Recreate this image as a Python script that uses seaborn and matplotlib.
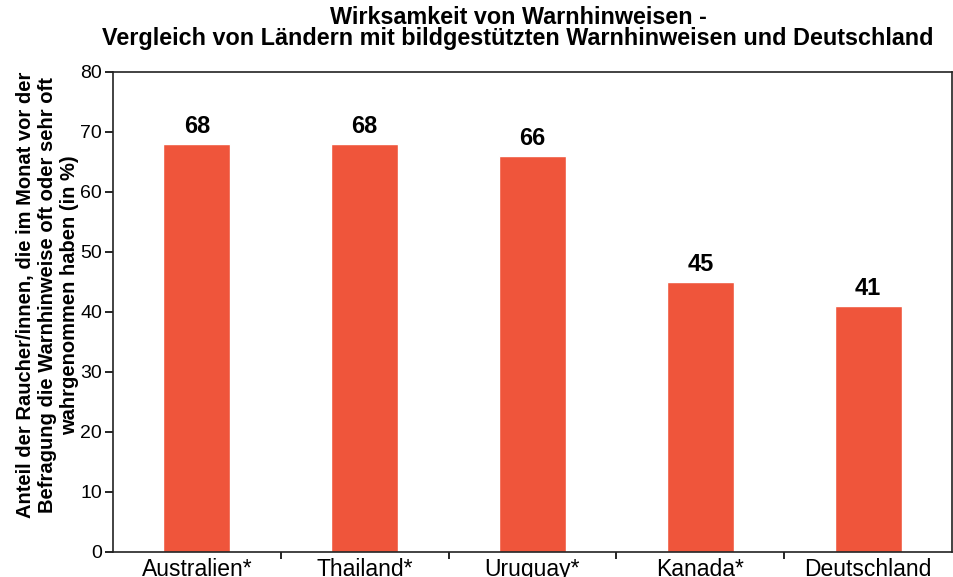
import matplotlib
matplotlib.use("Agg")
import matplotlib.pyplot as plt
import seaborn as sns
import pandas as pd
import numpy as np

countries = ["Australien*", "Thailand*", "Uruguay*", "Kanada*", "Deutschland"]
values = [68, 68, 66, 45, 41]
y_ticks = [0, 10, 20, 30, 40, 50, 60, 70, 80]

sns.set_style("ticks")
plt.rcParams["font.family"] = ["Liberation Sans", "DejaVu Sans"]
plt.rcParams["text.color"] = "black"
plt.rcParams["xtick.color"] = "black"
plt.rcParams["ytick.color"] = "black"
plt.rcParams["axes.labelcolor"] = "black"

df = pd.DataFrame({"Land": countries, "Anteil": values})

fig = plt.figure(figsize=(9.54, 5.77), dpi=100)
ax = fig.add_axes([113 / 954, 25 / 577, 839 / 954, 480 / 577])

sns.barplot(data=df, x="Land", y="Anteil", color="#EF553B", saturation=1,
            width=0.4, ax=ax)

for i, v in enumerate(values):
    ax.text(i, v + 1.0, f"{v}", ha="center", va="bottom",
            fontsize=17, fontweight="bold")

ax.set_ylim(0, 80)
ax.set_xlim(-0.5, len(countries) - 0.5)
ax.set_yticks(y_ticks)
ax.tick_params(axis="y", labelsize=14, length=6, width=1.2, direction="out", pad=2)
ax.tick_params(axis="x", which="major", labelsize=16.5, length=0, pad=4)
ax.set_xticks(np.arange(0.5, len(countries) - 0.5), minor=True)
ax.tick_params(axis="x", which="minor", length=5, width=1.2, direction="out")
for s in ax.spines.values():
    s.set_visible(True)
    s.set_linewidth(1.2)
    s.set_color("#222222")

ax.set_xlabel("")
ax.set_ylabel("Anteil der Raucher/innen, die im Monat vor der\n"
              "Befragung die Warnhinweise oft oder sehr oft\n"
              "wahrgenommen haben (in %)",
              fontsize=14.5, fontweight="bold", linespacing=1.22)
ax.yaxis.set_label_coords(-0.04, 0.535)

fig.suptitle("Wirksamkeit von Warnhinweisen -\n"
             "Vergleich von Ländern mit bildgestützten Warnhinweisen und Deutschland",
             x=518 / 954, y=0.99, fontsize=16.8, fontweight="bold", linespacing=0.9)

fig.savefig("out.png", dpi=100)
